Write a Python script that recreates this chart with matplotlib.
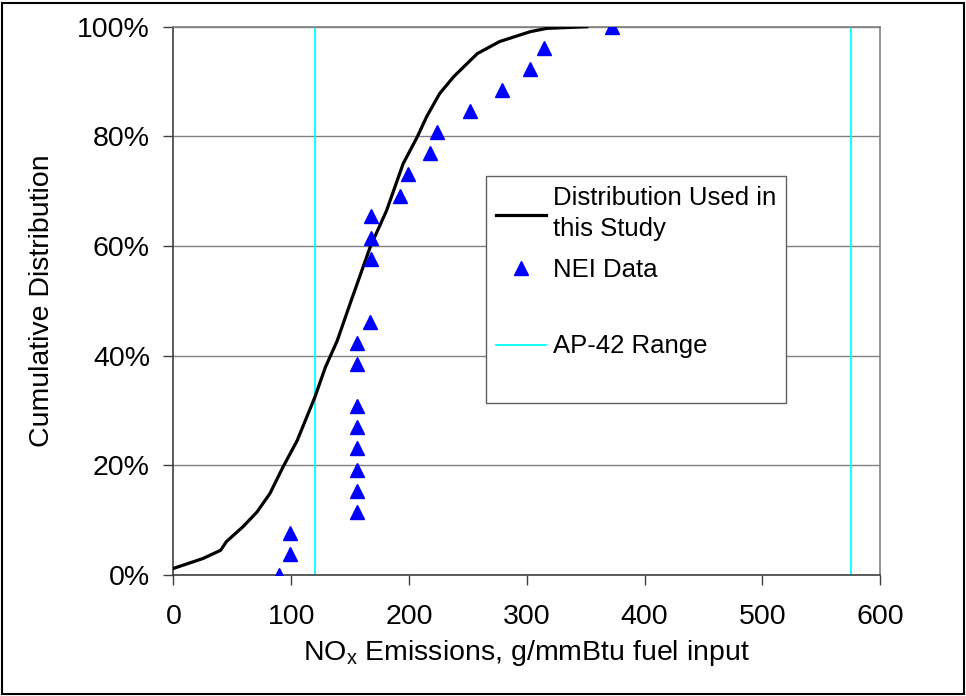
import matplotlib
matplotlib.use('Agg')
import matplotlib.pyplot as plt
from matplotlib.lines import Line2D
from matplotlib.patches import Rectangle
from matplotlib.ticker import PercentFormatter

plt.rcParams['font.family'] = ['Liberation Sans', 'DejaVu Sans']
plt.rcParams['mathtext.default'] = 'regular'

# fitted distribution
dist_x = [0, 25, 40, 45, 59, 71, 82, 93, 105, 120, 129, 139, 150, 167, 181,
          195, 207, 215, 226, 238, 258, 277, 303, 317, 351]
dist_y = [1.2, 3.0, 4.5, 6.1, 8.8, 11.5, 14.9, 19.7, 24.5, 32.4, 37.9, 42.7, 49.5,
          59.8, 66.5, 75.0, 79.9, 83.6, 87.8, 90.9, 95.1, 97.3, 99.1, 99.7, 100]

# NEI data points
nei_x = [90, 99, 99, 156, 156, 156, 156, 156, 156, 156, 156, 167, 168, 168, 168,
         192, 199, 218, 224, 252, 279, 303, 315, 372]
nei_y = [0, 3.8, 7.7, 11.5, 15.4, 19.2, 23.1, 26.9, 30.8, 38.5, 42.3, 46.2, 57.7,
         61.5, 65.4, 69.2, 73.1, 76.9, 80.8, 84.6, 88.5, 92.3, 96.2, 100]

# AP-42 range
ap42 = [120, 575]

fig = plt.figure(figsize=(9.66, 6.96), dpi=100)
ax = fig.add_axes([0.1796, 0.1739, 0.911 - 0.1796, 0.9616 - 0.1739])

ax.yaxis.grid(True, color='#808080', lw=1.0)
ax.set_axisbelow(True)

for v in ap42:
    ax.axvline(v, color='#00FFFF', lw=1.3, zorder=2)
ax.plot(dist_x, dist_y, color='black', lw=2.3, zorder=3)
ax.plot(nei_x, nei_y, ls='none', marker='^', ms=10, color='#0000FF', zorder=4)

ax.set_xlim(0, 600)
ax.set_ylim(0, 100)
ax.set_xticks(range(0, 601, 100))
ax.set_yticks(range(0, 101, 20))
ax.yaxis.set_major_formatter(PercentFormatter(decimals=0))
ax.tick_params(labelsize=20.5, length=7, width=1, color='#404040')
ax.tick_params(axis='y', pad=10)
ax.tick_params(axis='x', pad=14)

for s in ['left', 'bottom']:
    ax.spines[s].set_color('#404040')
    ax.spines[s].set_linewidth(1.2)
for s in ['top', 'right']:
    ax.spines[s].set_color('#808080')
    ax.spines[s].set_linewidth(1.2)

ax.set_xlabel('NO$_x$ Emissions, g/mmBtu fuel input', fontsize=20.5, labelpad=6)
ax.set_ylabel('Cumulative Distribution', fontsize=20.5, labelpad=16)

blank = Line2D([], [], ls='none')
handles = [Line2D([], [], color='black', lw=2.3),
           Line2D([], [], ls='none', marker='^', ms=10, color='#0000FF'),
           blank,
           Line2D([], [], color='#00FFFF', lw=1.3),
           blank]
labels = ['Distribution Used in\nthis Study', 'NEI Data', ' ', 'AP-42 Range', ' ']
leg = ax.legend(handles, labels, loc='upper left', bbox_to_anchor=(486 / 966, 1 - 176 / 696),
                bbox_transform=fig.transFigure, fontsize=18.5, frameon=True, fancybox=False,
                framealpha=1, edgecolor='#606060', borderpad=0.4, labelspacing=0.65,
                handlelength=1.95, handleheight=0.5, handletextpad=0.25, borderaxespad=0)
leg.get_frame().set_linewidth(1.0)
leg.get_texts()[0].set_linespacing(1.35)
leg.get_texts()[2].set_fontsize(10)
leg.get_texts()[4].set_fontsize(3)

fig.patches.append(Rectangle((2 / 966, 2 / 696), 962 / 966, 691 / 696, transform=fig.transFigure,
                             fill=False, ec='black', lw=1.5))

fig.savefig('out.png', dpi=100)
